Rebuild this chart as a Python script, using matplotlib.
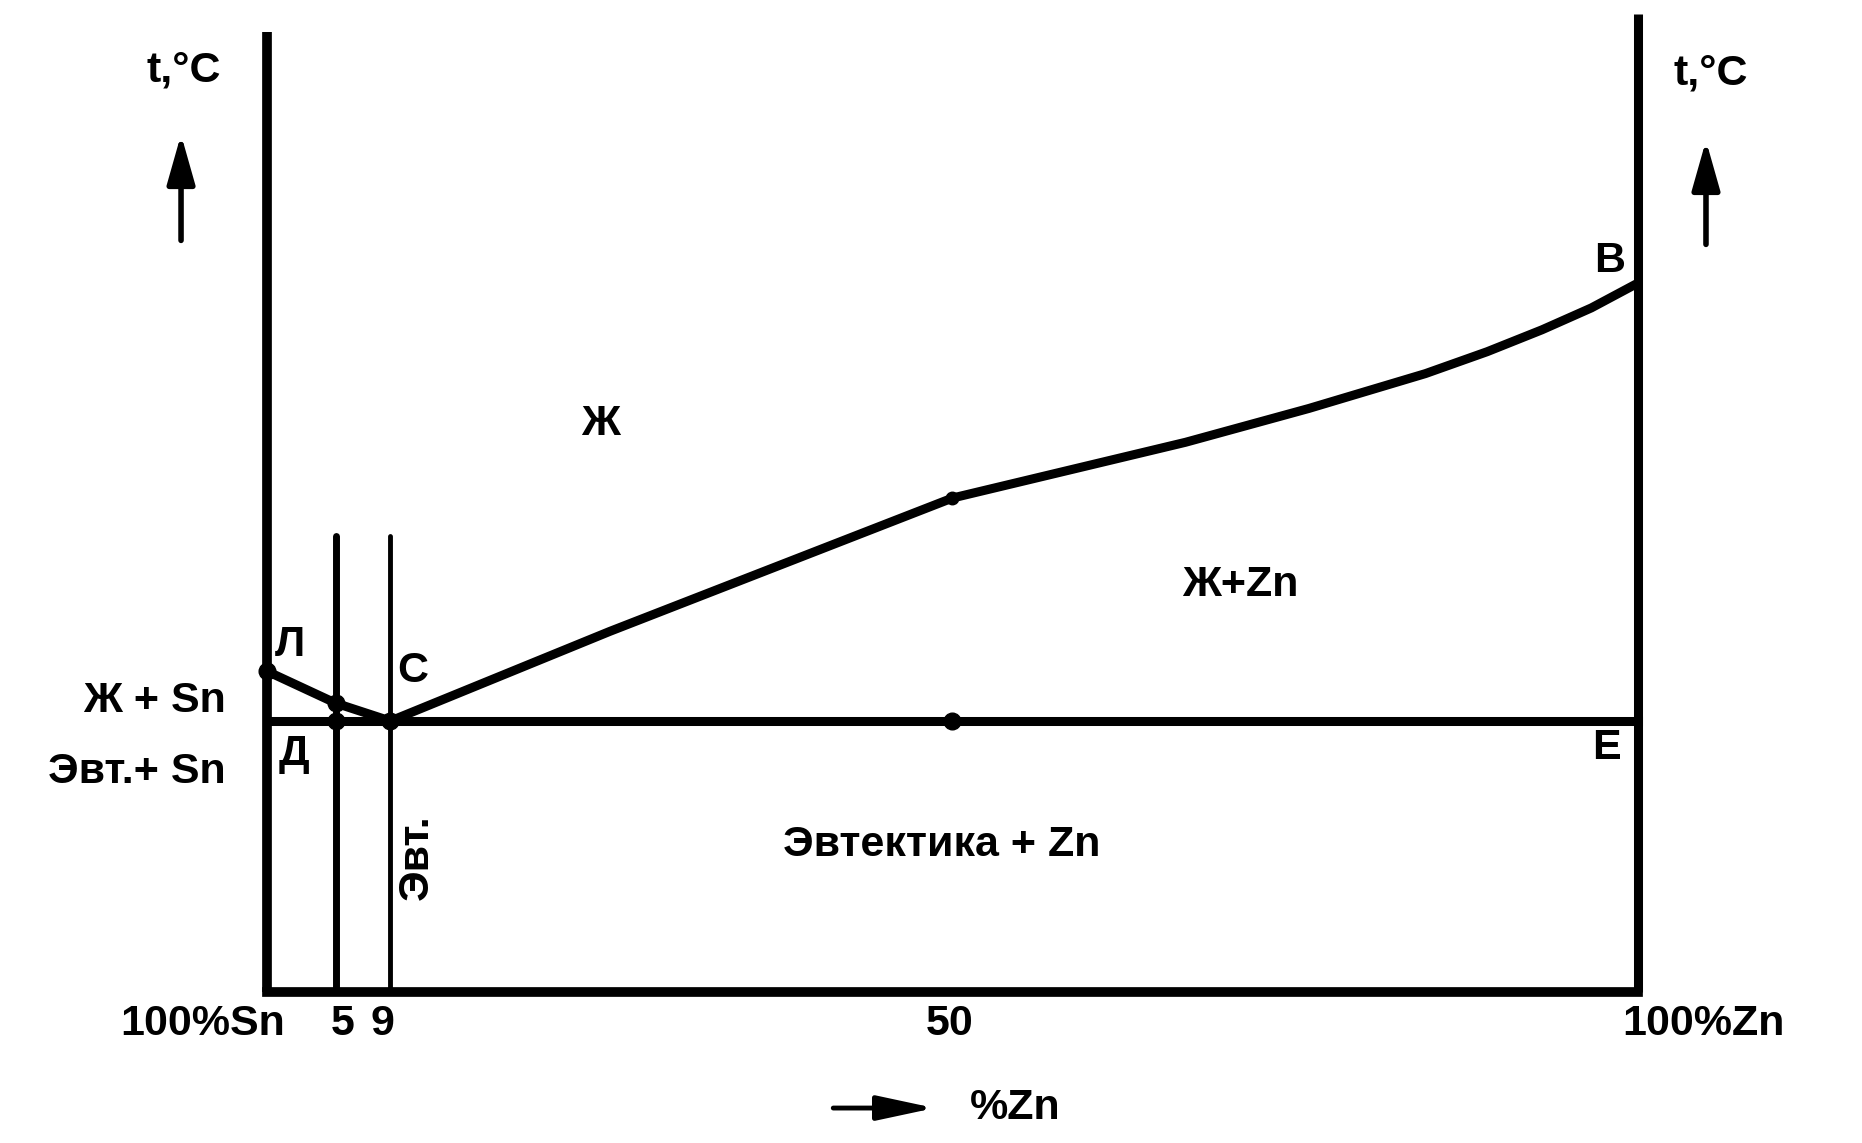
import numpy as np
import matplotlib
matplotlib.use('Agg')
import matplotlib.pyplot as plt

plt.rcParams['font.family'] = ['Liberation Sans', 'DejaVu Sans']
plt.rcParams['font.weight'] = 'bold'

# liquidus Л - C - B  (% Zn, t C)
liq_zn = [0, 5, 9, 25, 50, 67, 76, 84.5, 89, 93, 96.6, 100]
liq_t = [224, 208, 199, 244, 311, 339, 356, 373.5, 384.5, 395.5, 406.5, 419]

# eutectic line Д - E, base of diagram, axis heights
t_eut = 199
t_base = 63
t_axis_left = 545
t_axis_right = 554

# alloys 5 and 9 % Zn
alloy_zn = [5, 9]
alloy_top = 292

# marked points
dot_zn = [0, 5, 5, 9, 50, 50]
dot_t = [224, 208, 199, 199, 199, 311]

# composition labels
tick_zn = [-4.7, 5.5, 8.4, 49.8, 104.8]
tick_lab = ['100%Sn', '5', '9', '50', '100%Zn']

fig = plt.figure(figsize=(18.62, 11.43), dpi=100)
ax = fig.add_axes([0, 0, 1, 1])
ax.set_xlim(-19.475, 116.34)
ax.set_ylim(-12.96, 561.15)
ax.axis('off')

fs = 31

# frame
ax.plot([0, 0], [t_base, t_axis_left], 'k-', lw=7, solid_capstyle='butt')
ax.plot([100, 100], [t_base, t_axis_right], 'k-', lw=6.5, solid_capstyle='butt')
ax.plot([0, 100], [t_base, t_base], 'k-', lw=7, solid_capstyle='projecting')
ax.plot([0, 100], [t_eut, t_eut], 'k-', lw=6.5)

# alloy verticals
ax.plot([alloy_zn[0]] * 2, [t_base, alloy_top], 'k-', lw=5, solid_capstyle='round')
ax.plot([alloy_zn[1]] * 2, [t_base, alloy_top], 'k-', lw=3.5, solid_capstyle='round')

# liquidus
ax.plot(liq_zn, liq_t, 'k-', lw=6.5, solid_joinstyle='round', solid_capstyle='round')
ax.plot(dot_zn[:5], dot_t[:5], 'ko', ms=12)
ax.plot(dot_zn[5:], dot_t[5:], 'ko', ms=9)

# temperature axes
for xa, ya, yb, xt, yt in [(-6.27, 439, 495, -6.05, 525.5), (104.96, 437, 492, 105.3, 524)]:
    ax.annotate('', xy=(xa, yb), xytext=(xa, ya),
                arrowprops=dict(arrowstyle='-|>,head_length=0.6,head_width=0.17',
                                mutation_scale=50, lw=4, color='k'))
    ax.text(xt, yt, 't,°C', fontsize=fs, ha='center', va='center')

# composition axis
for xz, lab in zip(tick_zn, tick_lab):
    ax.text(xz, 46.8, lab, fontsize=fs, ha='center', va='center')
ax.annotate('', xy=(48.9, 4.6), xytext=(41.1, 4.6),
            arrowprops=dict(arrowstyle='-|>,head_length=0.7,head_width=0.15',
                            mutation_scale=50, lw=3.5, color='k'))
ax.text(54.6, 4.6, '%Zn', fontsize=fs, ha='center', va='center')

# region and point labels
ax.text(24.3, 348, 'Ж', fontsize=fs, ha='center', va='center')
ax.text(71.0, 267.3, 'Ж+Zn', fontsize=fs, ha='center', va='center')
ax.text(49.2, 136.7, 'Эвтектика + Zn', fontsize=fs, ha='center', va='center')
ax.text(-3.0, 209, 'Ж + Sn', fontsize=fs, ha='right', va='center')
ax.text(-3.0, 173.4, 'Эвт.+ Sn', fontsize=fs, ha='right', va='center')
ax.text(10.9, 130.7, 'Эвт.', fontsize=fs, ha='center', va='center', rotation=90)
ax.text(1.7, 237, 'Л', fontsize=fs, ha='center', va='center')
ax.text(10.6, 224, 'С', fontsize=fs, ha='center', va='center')
ax.text(2.0, 182.4, 'Д', fontsize=fs, ha='center', va='center')
ax.text(97.7, 185.4, 'Е', fontsize=fs, ha='center', va='center')
ax.text(97.9, 430, 'В', fontsize=fs, ha='center', va='center')

plt.savefig('out.png', dpi=100)
